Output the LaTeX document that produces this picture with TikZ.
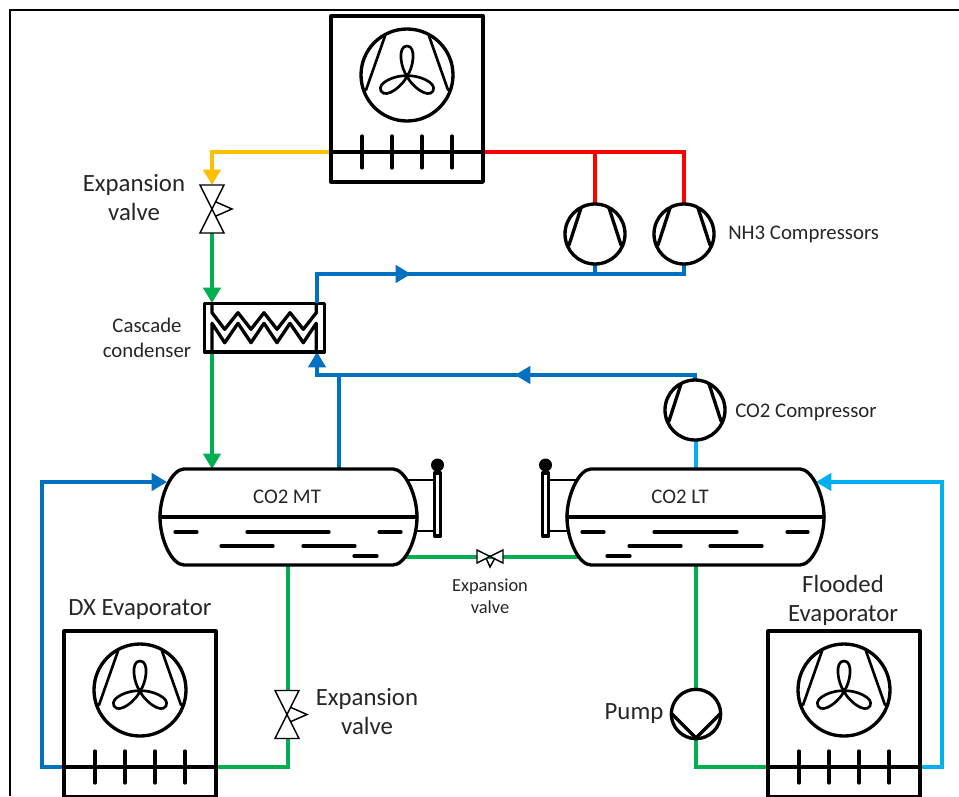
\documentclass[tikz,border=0pt]{standalone}
\usepackage{fontspec}
\setmainfont{Carlito}
\usetikzlibrary{arrows.meta}
\definecolor{pipeblue}{HTML}{0070C0}
\definecolor{pipegreen}{HTML}{00B050}
\definecolor{pipered}{HTML}{FF0000}
\definecolor{pipeyellow}{HTML}{FFC000}
\definecolor{pipesky}{HTML}{00B0F0}
\tikzset{
  x=0.75pt,y=-0.75pt,
  pipe/.style={line width=2.4pt,line join=miter},
  tip/.style={-{Triangle[length=11.5pt,width=13pt]}},
  heavy/.style={line width=2.5pt,draw=black,line join=round,line cap=round},
  medium/.style={line width=2pt,draw=black,line join=round,line cap=round},
  thin valve/.style={line width=1.1pt,draw=black,fill=white,line join=miter},
  unitbox/.style={rectangle,heavy,fill=white,outer sep=0pt,minimum width=114pt,minimum height=124.5pt,inner sep=0pt},
  wheel/.style={circle,heavy,fill=white,inner sep=0pt,outer sep=0pt},
  label big/.style={font=\fontsize{18.6pt}{22pt}\selectfont,align=center,inner sep=0pt,text=black!85},
  label mid/.style={font=\fontsize{15.6pt}{19pt}\selectfont,align=center,inner sep=0pt,text=black!85},
  label small/.style={font=\fontsize{13.8pt}{16.5pt}\selectfont,align=center,inner sep=0pt,text=black!85},
}
% #1 name, #2 left x, #3 top y
\newcommand{\fanunit}[3]{%
  \node[unitbox,anchor=north west] (#1) at (#2,#3) {};
  \node[wheel,minimum size=69pt] (#1-fan) at (#2+76,#3+59) {};
  \coordinate (#1-l) at (#2,#3+136);
  \coordinate (#1-r) at (#2+152,#3+136);
  \begin{scope}[shift={(#2,#3)}]
    \draw[medium] (54,20) -- (35,74);
    \draw[medium] (98,20) -- (117,74);
    \foreach \a in {0,120,240}{
      \draw[medium,shift={(76,60)},rotate=\a] (0,0) .. controls (-6,-7) and (-10,-30) .. (0,-30) .. controls (10,-30) and (6,-7) .. (0,0);
    }
    \draw[heavy,line width=2.4pt] (0,136) -- (152,136);
    \foreach \t in {31,61,91,121}{ \draw[heavy,line width=2.4pt] (\t,120) -- (\t,152); }
  \end{scope}
}
% #1 name, #2 x, #3 y
\newcommand{\compressor}[3]{%
  \node[wheel,minimum size=45pt] (#1) at (#2,#3) {};
  \draw[heavy] (#2-14,#3-26) -- (#2-26,#3+11);
  \draw[heavy] (#2+14,#3-26) -- (#2+26,#3+11);
}
% #1 name, #2 x, #3 y : centre of a valve with upright triangles
\newcommand{\vvalve}[3]{%
  \draw[thin valve] (#2-12,#3-24) -- (#2+12,#3-24) -- (#2-12,#3+24) -- (#2+12,#3+24) -- cycle;
  \draw[thin valve,fill=none] (#2+4,#3-7) -- (#2+20,#3) -- (#2+4,#3+7);
  \coordinate (#1-t) at (#2,#3-24);
  \coordinate (#1-b) at (#2,#3+24);
}
% #1 name, #2 left x of the drum
\newcommand{\drum}[2]{%
  \draw[heavy,fill=white] (#2+24,469) -- (#2+233,469)
    .. controls (#2+245,469) and (#2+257,495) .. (#2+257,517)
    .. controls (#2+257,540) and (#2+245,565) .. (#2+233,565)
    -- (#2+24,565)
    .. controls (#2+12,565) and (#2,540) .. (#2,517)
    .. controls (#2,495) and (#2+12,469) .. (#2+24,469) -- cycle;
  \draw[heavy] (#2,517) -- (#2+257,517);
}
\begin{document}
\begin{tikzpicture}
\useasboundingbox (0,0) rectangle (959,796);
\begin{scope}
\clip (0,0) rectangle (959,796);
% frame
\draw[line width=1.9pt,line cap=butt] (10,796) -- (10,10) -- (959,10);

% coordinates for free pipe corners
\coordinate (ytip) at (212,185);
\coordinate (rjoin) at (595,152);
\coordinate (rcorner) at (684,152);
\coordinate (ycorner) at (212,152);
\coordinate (condin) at (212,303);
\coordinate (condout) at (212,352);
\coordinate (condtr) at (317,303);
\coordinate (condbr) at (317,352);
\coordinate (midarrow1) at (411,274);
\coordinate (midtail1) at (390,274);
\coordinate (midarrow2) at (515,375);
\coordinate (midtail2) at (536,375);
\coordinate (mtin) at (212,469);
\coordinate (mtout) at (339,469);
\coordinate (mtbot) at (288,565);
\coordinate (mtside) at (167,482);
\coordinate (mtliq) at (404,557);
\coordinate (ltside) at (816,482);
\coordinate (lttop) at (696,469);
\coordinate (ltbot) at (696,565);
\coordinate (ltliq) at (580,557);

% pipes
\draw[pipe,pipeyellow,tip] (331,152) -- (ycorner) -- (ytip);
\draw[pipe,pipered] (483,152) -- (rcorner) -- (684,205);
\draw[pipe,pipered] (rjoin) -- (595,205);
\draw[pipe,pipegreen,tip] (212,233) -- (condin);
\draw[pipe,pipegreen,tip] (condout) -- (mtin);
\draw[pipe,pipeblue] (condtr) |- (684,274) -- (684,263);
\draw[pipe,pipeblue,tip] (midtail1) -- (midarrow1);
\draw[pipe,pipeblue] (595,274) -- (595,263);
\draw[pipe,pipeblue,tip] (695,381) |- (339,375) -| (condbr);
\draw[pipe,pipeblue,tip] (midtail2) -- (midarrow2);
\draw[pipe,pipeblue] (mtout) -- (339,375);
\draw[pipe,pipesky] (lttop) -- (696,440);
\draw[pipe,pipegreen] (mtbot) -- (288,692);
\draw[pipe,pipegreen] (288,738) -- (288,767) -- (216,767);
\draw[pipe,pipeblue,tip] (64,767) -- (42,767) -- (42,482) -- (mtside);
\draw[pipe,pipesky,tip] (920,767) -- (942,767) -- (942,482) -- (ltside);
\draw[pipe,pipegreen] (ltbot) -- (696,690);
\draw[pipe,pipegreen] (696,738) -- (696,767) -- (768,767);
\draw[pipe,pipegreen] (mtliq) -- (ltliq);

% air coolers
\fanunit{cooler}{331}{16}
\fanunit{dxevap}{64}{631}
\fanunit{floodevap}{768}{631}

% compressors
\compressor{nhc1}{595}{234}
\compressor{nhc2}{684}{234}
\compressor{coc}{695}{410}

% valves
\vvalve{v1}{212}{209}
\vvalve{v2}{287}{714.5}
\draw[thin valve] (477,550) -- (503,563) -- (503,550) -- (477,563) -- cycle;
\draw[thin valve,fill=none] (486,558) -- (490,567) -- (495,558);

% cascade condenser
\node[rectangle,heavy,fill=white,outer sep=0pt,minimum width=90pt,minimum height=36.5pt,inner sep=0pt] (cond) at (264.5,327.5) {};
\draw[heavy] (212,304) -- (212,312.7) -- (224.7,329.3) -- (238,312.7) -- (251,329.3) -- (264,312.7) -- (277,329.3) -- (290,312.7) -- (303.3,329.3) -- (316.3,312.7) -- (316.3,304);
\draw[heavy] (212,351) -- (212,323.3) -- (224.7,342.7) -- (238,323.3) -- (251,342.7) -- (264,323.3) -- (277,342.7) -- (290,323.3) -- (303.3,342.7) -- (316.3,323.3) -- (316.3,351);
\draw[pipe,pipeblue] (317,303) -- (317,296);

% receivers: sight glass first
\draw[line width=1.6pt] (405,480) -- (434,480) (412,531) -- (434,531);
\draw[heavy,fill=white,line width=2.4pt] (434.5,473) rectangle (440.5,536);
\fill (437.5,465) circle[radius=6.5];
\fill (435,470) rectangle (440,474);
\draw[line width=1.6pt] (549,480) -- (580,480) (549,531) -- (575,531);
\draw[heavy,fill=white,line width=2.4pt] (542.5,473) rectangle (548.5,536);
\fill (545.5,465) circle[radius=6.5];
\fill (543,470) rectangle (548,474);
\drum{mtdrum}{160}
\drum{ltdrum}{567}
\foreach \a/\b/\c in {175/197/532,247/329/532,379/401/532,221/273/546,303/355/546,354/377/556,
                      582/604/532,654/737/532,787/808/532,629/681/546,710/762/546,607/630/556}{
  \draw[heavy,line width=2.4pt] (\a,\c) -- (\b,\c);
}

% pump
\node[wheel,minimum size=37pt] (pump) at (696,714) {};
\draw[heavy] (672,714) -- (696,738) -- (720,714);

% labels
\node[label mid] (tmt) at (287,497) {CO2 MT};
\node[label mid] (tlt) at (680,497) {CO2 LT};
\node[label big] (tv1) at (134,197.5) {Expansion\\valve};
\node[label big] (tv2) at (367,711.5) {Expansion\\valve};
\node[label small] (tv3) at (490,596) {Expansion\\valve};
\node[label mid] (tcas) at (147,338) {Cascade\\condenser};
\node[label mid,anchor=west] (tnh) at (728,234) {NH3 Compressors};
\node[label mid,anchor=west] (tco) at (735,412) {CO2 Compressor};
\node[label big] (tdx) at (140,610) {DX Evaporator};
\node[label big] (tfl) at (843,600.5) {Flooded\\Evaporator};
\node[label big] (tpu) at (634,714) {Pump};
\end{scope}
\end{tikzpicture}
\end{document}
